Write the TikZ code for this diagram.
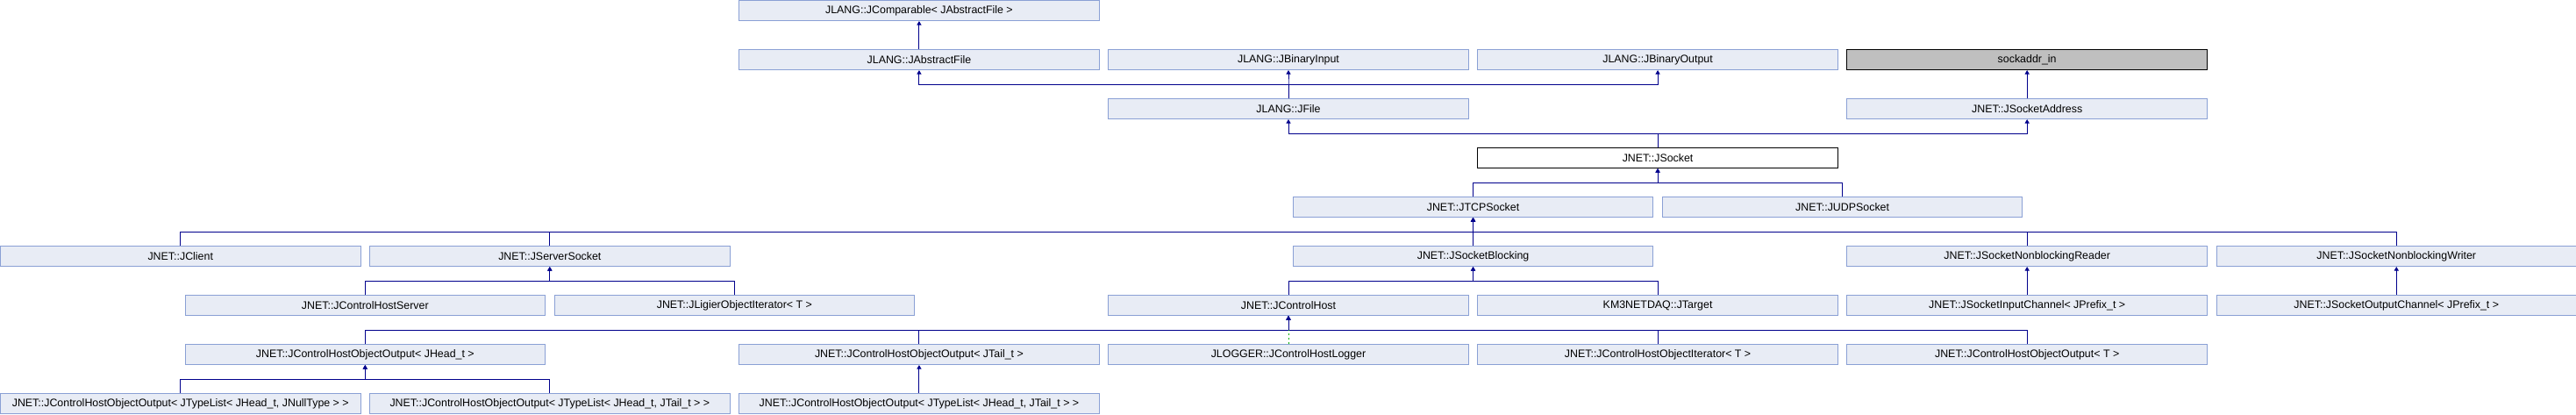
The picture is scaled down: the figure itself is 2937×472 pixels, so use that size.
\documentclass[tikz,border=0pt]{standalone}
\usepackage{fontspec}
\setmainfont{Liberation Sans}
\usetikzlibrary{arrows.meta}
\definecolor{boxfill}{RGB}{232,236,245}
\definecolor{boxline}{RGB}{138,160,213}
\definecolor{grayfill}{RGB}{191,191,191}
\definecolor{navy}{RGB}{0,0,140}
\definecolor{protgreen}{RGB}{0,176,0}
\tikzset{
  cls/.style={draw=boxline, fill=boxfill, line width=1pt, anchor=north west,
    minimum width=410.5pt, minimum height=23pt, inner sep=0pt,
    font=\fontsize{12.4}{14}\selectfont},
  curcls/.style={cls, draw=black, fill=white},
  extcls/.style={cls, draw=black, fill=grayfill},
  link/.style={draw=navy, line width=1pt, -{Triangle[width=5pt,length=4.5pt]}},
  protlink/.style={draw=protgreen, line width=1pt, dash pattern=on 2.5pt off 2.5pt},
}
\newcommand{\pitch}{421.08}
\newcommand{\inh}[2]{\draw[link] (#1.north) -- ++(0,-16) -| (#2.south);}
\begin{document}
\begin{tikzpicture}[x=1pt,y=-1pt]
\useasboundingbox (0,0) rectangle (2937,472);
% row 0
\node[cls] (cmp) at ({2*\pitch},0) {JLANG::JComparable< JAbstractFile >};
% row 1
\node[cls] (absf) at ({2*\pitch},56) {JLANG::JAbstractFile};
\node[cls] (binin) at ({3*\pitch},56) {JLANG::JBinaryInput};
\node[cls] (binout) at ({4*\pitch},56) {JLANG::JBinaryOutput};
\node[extcls] (sock) at ({5*\pitch},56) {sockaddr\_in};
% row 2
\node[cls] (jfile) at ({3*\pitch},112) {JLANG::JFile};
\node[cls] (saddr) at ({5*\pitch},112) {JNET::JSocketAddress};
% row 3
\node[curcls] (jsocket) at ({4*\pitch},168) {JNET::JSocket};
% row 4
\node[cls] (tcp) at ({3.5*\pitch},224) {JNET::JTCPSocket};
\node[cls] (udp) at ({4.5*\pitch},224) {JNET::JUDPSocket};
% row 5
\node[cls] (client) at (0,280) {JNET::JClient};
\node[cls] (server) at ({1*\pitch},280) {JNET::JServerSocket};
\node[cls] (blocking) at ({3.5*\pitch},280) {JNET::JSocketBlocking};
\node[cls] (nbr) at ({5*\pitch},280) {JNET::JSocketNonblockingReader};
\node[cls] (nbw) at ({6*\pitch},280) {JNET::JSocketNonblockingWriter};
% row 6
\node[cls] (chserver) at ({0.5*\pitch},336) {JNET::JControlHostServer};
\node[cls] (ligier) at ({1.5*\pitch},336) {JNET::JLigierObjectIterator< T >};
\node[cls] (chost) at ({3*\pitch},336) {JNET::JControlHost};
\node[cls] (target) at ({4*\pitch},336) {KM3NETDAQ::JTarget};
\node[cls] (inch) at ({5*\pitch},336) {JNET::JSocketInputChannel< JPrefix\_t >};
\node[cls] (outch) at ({6*\pitch},336) {JNET::JSocketOutputChannel< JPrefix\_t >};
% row 7
\node[cls] (outhead) at ({0.5*\pitch},392) {JNET::JControlHostObjectOutput< JHead\_t >};
\node[cls] (outtail) at ({2*\pitch},392) {JNET::JControlHostObjectOutput< JTail\_t >};
\node[cls] (logger) at ({3*\pitch},392) {JLOGGER::JControlHostLogger};
\node[cls] (chiter) at ({4*\pitch},392) {JNET::JControlHostObjectIterator< T >};
\node[cls] (outT) at ({5*\pitch},392) {JNET::JControlHostObjectOutput< T >};
% row 8
\node[cls] (tla) at (0,448) {JNET::JControlHostObjectOutput< JTypeList< JHead\_t, JNullType > >};
\node[cls] (tlb) at ({1*\pitch},448) {JNET::JControlHostObjectOutput< JTypeList< JHead\_t, JTail\_t > >};
\node[cls] (tlc) at ({2*\pitch},448) {JNET::JControlHostObjectOutput< JTypeList< JHead\_t, JTail\_t > >};
% connectors
\inh{absf}{cmp}
\inh{jfile}{absf}
\inh{jfile}{binin}
\inh{jfile}{binout}
\inh{saddr}{sock}
\inh{jsocket}{jfile}
\inh{jsocket}{saddr}
\inh{tcp}{jsocket}
\inh{udp}{jsocket}
\inh{client}{tcp}
\inh{server}{tcp}
\inh{blocking}{tcp}
\inh{nbr}{tcp}
\inh{nbw}{tcp}
\inh{chserver}{server}
\inh{ligier}{server}
\inh{chost}{blocking}
\inh{target}{blocking}
\inh{inch}{nbr}
\inh{outch}{nbw}
\inh{outhead}{chost}
\inh{outtail}{chost}
\inh{chiter}{chost}
\inh{outT}{chost}
\draw[protlink] (logger.north) -- ++(0,-16);
\inh{tla}{outhead}
\inh{tlb}{outhead}
\inh{tlc}{outtail}
\end{tikzpicture}
\end{document}
